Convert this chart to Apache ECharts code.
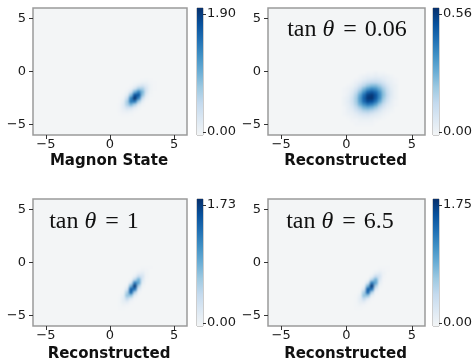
<!DOCTYPE html>
<html>
<head>
<meta charset="utf-8">
<script src="https://cdn.jsdelivr.net/npm/echarts@6/dist/echarts.min.js"></script>
<style>
  html, body { margin: 0; padding: 0; background: #fff; }
  #wrap { position: relative; width: 475px; height: 362px; }
  #heat, #chart { position: absolute; left: 0; top: 0; width: 475px; height: 362px; }
  /* soften the heatmap cells, then cut them back to the four plot boxes */
  #heat {
    filter: blur(1.3px);
    clip-path: path('M33 8 H187 V135 H33 Z M268 8 H425 V135 H268 Z M33 199 H187 V326 H33 Z M268 199 H425 V326 H268 Z');
  }
</style>
</head>
<body>
<div id="wrap">
  <div id="heat"></div>
  <div id="chart"></div>
</div>
<script>
// cell centres of the 40 x 40 heatmap grid (phase-space coordinates)
const centers = [-5.85, -5.55, -5.25, -4.95, -4.65, -4.35, -4.05, -3.75, -3.45, -3.15,
  -2.85, -2.55, -2.25, -1.95, -1.65, -1.35, -1.05, -0.75, -0.45, -0.15,
  0.15, 0.45, 0.75, 1.05, 1.35, 1.65, 1.95, 2.25, 2.55, 2.85,
  3.15, 3.45, 3.75, 4.05, 4.35, 4.65, 4.95, 5.25, 5.55, 5.85]
const axisTicks = [-5, 0, 5]

// Magnon State
const magnonX = [0.75, 1.05, 1.35, 1.65, 1.95, 2.25, 2.55, 2.85, 3.15, 3.45]
const magnonY = [-0.75, -1.05, -1.35, -1.65, -1.95, -2.25, -2.55, -2.85, -3.15, -3.45, -3.75, -4.05]
const magnonZ = [
  [0, 0, 0, 0, 0, 0, 0.01, 0.02, 0.01, 0],
  [0, 0, 0, 0, 0.01, 0.04, 0.08, 0.08, 0.03, 0.01],
  [0, 0, 0, 0.01, 0.07, 0.20, 0.28, 0.19, 0.06, 0.01],
  [0, 0, 0.01, 0.07, 0.31, 0.64, 0.63, 0.28, 0.06, 0.01],
  [0, 0, 0.05, 0.30, 0.90, 1.28, 0.86, 0.27, 0.04, 0],
  [0, 0.02, 0.17, 0.77, 1.63, 1.62, 0.76, 0.17, 0.02, 0],
  [0.01, 0.06, 0.41, 1.27, 1.87, 1.29, 0.42, 0.06, 0, 0],
  [0.01, 0.13, 0.62, 1.34, 1.35, 0.65, 0.15, 0.01, 0, 0],
  [0.03, 0.18, 0.59, 0.88, 0.62, 0.21, 0.03, 0, 0, 0],
  [0.03, 0.16, 0.35, 0.37, 0.18, 0.04, 0, 0, 0, 0],
  [0.03, 0.09, 0.13, 0.10, 0.03, 0, 0, 0, 0, 0],
  [0.01, 0.03, 0.03, 0.02, 0, 0, 0, 0, 0, 0]
]

// Reconstructed, tan theta = 0.06
const tan006X = [-0.15, 0.15, 0.45, 0.75, 1.05, 1.35, 1.65, 1.95, 2.25, 2.55, 2.85, 3.15, 3.45, 3.75]
const tan006Y = [-0.15, -0.45, -0.75, -1.05, -1.35, -1.65, -1.95, -2.25, -2.55, -2.85, -3.15, -3.45,
  -3.75, -4.05, -4.35, -4.65, -4.95]
const tan006Z = [
  [0, 0, 0, 0, 0, 0, 0.01, 0.01, 0.02, 0.01, 0.01, 0, 0, 0],
  [0, 0, 0, 0, 0.01, 0.02, 0.03, 0.03, 0.04, 0.03, 0.03, 0.02, 0.01, 0],
  [0, 0, 0, 0.01, 0.02, 0.04, 0.06, 0.07, 0.08, 0.07, 0.05, 0.03, 0.02, 0.01],
  [0, 0, 0.01, 0.03, 0.05, 0.09, 0.12, 0.14, 0.14, 0.12, 0.09, 0.05, 0.03, 0.01],
  [0, 0.01, 0.02, 0.05, 0.10, 0.15, 0.21, 0.24, 0.24, 0.20, 0.14, 0.08, 0.04, 0.02],
  [0.01, 0.02, 0.04, 0.09, 0.16, 0.25, 0.32, 0.36, 0.34, 0.27, 0.19, 0.11, 0.05, 0.02],
  [0.01, 0.02, 0.06, 0.13, 0.23, 0.34, 0.44, 0.47, 0.43, 0.34, 0.22, 0.12, 0.06, 0.02],
  [0.01, 0.03, 0.08, 0.17, 0.29, 0.42, 0.52, 0.54, 0.48, 0.36, 0.23, 0.13, 0.06, 0.02],
  [0.02, 0.04, 0.10, 0.19, 0.32, 0.45, 0.54, 0.55, 0.47, 0.35, 0.21, 0.11, 0.05, 0.02],
  [0.02, 0.05, 0.10, 0.19, 0.31, 0.43, 0.50, 0.49, 0.41, 0.29, 0.17, 0.09, 0.04, 0.01],
  [0.02, 0.04, 0.09, 0.17, 0.27, 0.35, 0.40, 0.38, 0.31, 0.21, 0.12, 0.06, 0.03, 0.01],
  [0.01, 0.04, 0.07, 0.13, 0.20, 0.26, 0.28, 0.26, 0.21, 0.14, 0.08, 0.04, 0.02, 0],
  [0.01, 0.03, 0.05, 0.09, 0.13, 0.17, 0.18, 0.16, 0.12, 0.08, 0.04, 0.02, 0.01, 0],
  [0.01, 0.02, 0.03, 0.05, 0.08, 0.09, 0.10, 0.08, 0.06, 0.04, 0.02, 0.01, 0, 0],
  [0, 0.01, 0.02, 0.03, 0.04, 0.05, 0.05, 0.04, 0.03, 0.02, 0.01, 0, 0, 0],
  [0, 0, 0.01, 0.01, 0.02, 0.02, 0.02, 0.02, 0.01, 0, 0, 0, 0, 0],
  [0, 0, 0, 0.01, 0.01, 0.01, 0.01, 0.01, 0, 0, 0, 0, 0, 0]
]

// Reconstructed, tan theta = 1
const tan1X = [0.75, 1.05, 1.35, 1.65, 1.95, 2.25, 2.55, 2.85, 3.15]
const tan1Y = [-0.45, -0.75, -1.05, -1.35, -1.65, -1.95, -2.25, -2.55, -2.85, -3.15, -3.45, -3.75, -4.05, -4.35]
const tan1Z = [
  [0, 0, 0, 0, 0, 0, 0.01, 0.01, 0.01],
  [0, 0, 0, 0, 0, 0.02, 0.05, 0.03, 0],
  [0, 0, 0, 0, 0.01, 0.11, 0.16, 0.04, 0],
  [0, 0, 0, 0, 0.10, 0.40, 0.27, 0.03, 0],
  [0, 0, 0, 0.04, 0.47, 0.83, 0.23, 0.01, 0],
  [0, 0, 0.01, 0.25, 1.20, 0.91, 0.11, 0, 0],
  [0, 0, 0.06, 0.81, 1.66, 0.55, 0.04, 0, 0],
  [0, 0.01, 0.25, 1.41, 1.26, 0.18, 0, 0, 0],
  [0, 0.04, 0.56, 1.34, 0.52, 0.03, 0, 0, 0],
  [0.01, 0.10, 0.67, 0.69, 0.12, 0, 0, 0, 0],
  [0.02, 0.15, 0.43, 0.19, 0.01, 0, 0, 0, 0],
  [0.02, 0.12, 0.15, 0.03, 0, 0, 0, 0, 0],
  [0.02, 0.05, 0.03, 0, 0, 0, 0, 0, 0],
  [0.01, 0.01, 0, 0, 0, 0, 0, 0, 0]
]

// Reconstructed, tan theta = 6.5
const tan65X = [0.75, 1.05, 1.35, 1.65, 1.95, 2.25, 2.55, 2.85, 3.15]
const tan65Y = [-0.45, -0.75, -1.05, -1.35, -1.65, -1.95, -2.25, -2.55, -2.85, -3.15, -3.45, -3.75, -4.05, -4.35]
const tan65Z = [
  [0, 0, 0, 0, 0, 0, 0.01, 0.01, 0.01],
  [0, 0, 0, 0, 0, 0.02, 0.05, 0.03, 0.01],
  [0, 0, 0, 0, 0.01, 0.11, 0.17, 0.05, 0],
  [0, 0, 0, 0, 0.10, 0.41, 0.28, 0.03, 0],
  [0, 0, 0, 0.04, 0.48, 0.85, 0.24, 0.01, 0],
  [0, 0, 0.01, 0.26, 1.22, 0.92, 0.11, 0, 0],
  [0, 0, 0.06, 0.82, 1.68, 0.56, 0.04, 0, 0],
  [0, 0.01, 0.25, 1.43, 1.28, 0.18, 0, 0, 0],
  [0, 0.04, 0.57, 1.36, 0.53, 0.03, 0, 0, 0],
  [0.01, 0.10, 0.68, 0.70, 0.12, 0, 0, 0, 0],
  [0.02, 0.15, 0.44, 0.19, 0.01, 0, 0, 0, 0],
  [0.02, 0.12, 0.15, 0.03, 0, 0, 0, 0, 0],
  [0.02, 0.05, 0.03, 0, 0, 0, 0, 0, 0],
  [0.01, 0.01, 0, 0, 0, 0, 0, 0, 0]
]

const colorbarMax = [1.90, 0.56, 1.73, 1.75]
const captions = ['Magnon State', 'Reconstructed', 'Reconstructed', 'Reconstructed']
const notes = [null, '0.06', '1', '6.5']

const cmap = ['#f3f5f6', '#dce8f3', '#c4daee', '#9dc9e1', '#6aadd5', '#4191c5', '#2070b4', '#08519c', '#08306b']

const panels = [
  { xs: magnonX, ys: magnonY, zs: magnonZ },
  { xs: tan006X, ys: tan006Y, zs: tan006Z },
  { xs: tan1X, ys: tan1Y, zs: tan1Z },
  { xs: tan65X, ys: tan65Y, zs: tan65Z }
]

// layout in px
const boxes = [
  { left: 33, top: 8, width: 154, cb: 197, cap: 26, note: [0, 0] },
  { left: 268, top: 8, width: 157, cb: 433, cap: 26, note: [347, 30] },
  { left: 33, top: 199, width: 154, cb: 197, cap: 28, note: [94, 222] },
  { left: 268, top: 199, width: 157, cb: 433, cap: 28, note: [340, 222] }
]
const plotH = 127
const catNames = centers.map(c => c.toFixed(2))
const minus = v => String(v).replace('-', '\u2212')
const tickFont = { fontFamily: 'DejaVu Sans', fontSize: 13, color: '#1a1a1a' }

// bottom layer: the heatmaps only
const heatGrid = []
const heatX = []
const heatY = []
const heatSeries = []
const heatMaps = []

// top layer: frames, ticks, colorbars, texts
const grid = []
const xAxis = []
const yAxis = []
const series = []
const graphic = []

panels.forEach((p, i) => {
  const b = boxes[i]
  const max = colorbarMax[i]

  heatGrid.push({ left: b.left, top: b.top, width: b.width, height: plotH })
  heatX.push({ type: 'category', gridIndex: i, data: catNames, show: false })
  heatY.push({ type: 'category', gridIndex: i, data: catNames, show: false })
  const data = []
  p.ys.forEach((y, r) => {
    p.xs.forEach((x, c) => {
      const v = p.zs[r][c]
      if (v > 0) data.push([centers.indexOf(x), centers.indexOf(y), v])
    })
  })
  heatMaps.push({ type: 'continuous', show: false, seriesIndex: i,
    min: 0, max: max, inRange: { color: cmap } })
  heatSeries.push({ type: 'heatmap', xAxisIndex: i, yAxisIndex: i, data: data,
    itemStyle: { borderWidth: 0 }, emphasis: { disabled: true }, silent: true })

  // frame and ticks
  const g = grid.length
  grid.push({ left: b.left, top: b.top, width: b.width, height: plotH, show: true,
    borderColor: '#9a9a9a', borderWidth: 1.5 })
  xAxis.push({ type: 'value', gridIndex: g, min: -6, max: 6, position: 'bottom',
    axisLine: { show: false, onZero: false }, splitLine: { show: false },
    axisTick: { show: true, customValues: axisTicks, length: 4, lineStyle: { color: '#333' } },
    axisLabel: Object.assign({ customValues: axisTicks, formatter: minus, margin: 3 }, tickFont) })
  yAxis.push({ type: 'value', gridIndex: g, min: -6, max: 6, position: 'left',
    axisLine: { show: false, onZero: false }, splitLine: { show: false },
    axisTick: { show: true, customValues: axisTicks, length: 4, lineStyle: { color: '#333' } },
    axisLabel: Object.assign({ customValues: axisTicks, formatter: minus, margin: 7 }, tickFont) })

  // colorbar
  const gc = grid.length
  grid.push({ left: b.cb, top: b.top, width: 6, height: plotH, show: true,
    borderColor: '#9a9a9a', borderWidth: 1 })
  const bx = xAxis.length
  xAxis.push({ type: 'category', gridIndex: gc, data: ['cb'], show: false })
  const by = yAxis.length
  yAxis.push({ type: 'value', gridIndex: gc, min: 0, max: 1, show: false })
  yAxis.push({ type: 'value', gridIndex: gc, position: 'right',
    min: -max * 3 / 118, max: max * 124 / 118,
    axisLine: { show: false, onZero: false }, splitLine: { show: false },
    axisTick: { show: true, customValues: [0, max], length: 3, lineStyle: { color: '#333' } },
    axisLabel: Object.assign({ customValues: [0, max], formatter: v => v.toFixed(2), margin: 4 }, tickFont) })
  series.push({ type: 'bar', xAxisIndex: bx, yAxisIndex: by, data: [1], barWidth: '100%', silent: true,
    itemStyle: { color: new echarts.graphic.LinearGradient(0, 0, 0, 1,
      cmap.slice().reverse().map((c, k) => ({ offset: k / (cmap.length - 1), color: c }))) } })

  // caption under each panel
  graphic.push({ type: 'text', x: b.left + b.width / 2 - 1, y: b.top + plotH + b.cap,
    style: { text: captions[i], font: 'bold 15px "DejaVu Sans"', fill: '#111',
      align: 'center', verticalAlign: 'middle' } })
  if (notes[i]) {
    graphic.push({ type: 'text', x: b.note[0], y: b.note[1],
      style: { text: '{r|tan }{i|\u03b8}{e|=}{r|' + notes[i] + '}', align: 'center', verticalAlign: 'middle',
        rich: {
          r: { fontFamily: 'Liberation Serif', fontSize: 24, fill: '#111' },
          i: { fontFamily: 'Liberation Serif', fontSize: 24, fontStyle: 'italic', fill: '#111' },
          e: { fontFamily: 'Liberation Serif', fontSize: 24, fill: '#111', padding: [0, 8, 0, 9] }
        } } })
  }
})

const heatChart = echarts.init(document.getElementById('heat'))
heatChart.setOption({
  animation: false,
  backgroundColor: cmap[0],
  grid: heatGrid, xAxis: heatX, yAxis: heatY, visualMap: heatMaps, series: heatSeries
})

const myChart = echarts.init(document.getElementById('chart'))
myChart.setOption({
  animation: false,
  grid, xAxis, yAxis, series, graphic
})
</script>
</body>
</html>
